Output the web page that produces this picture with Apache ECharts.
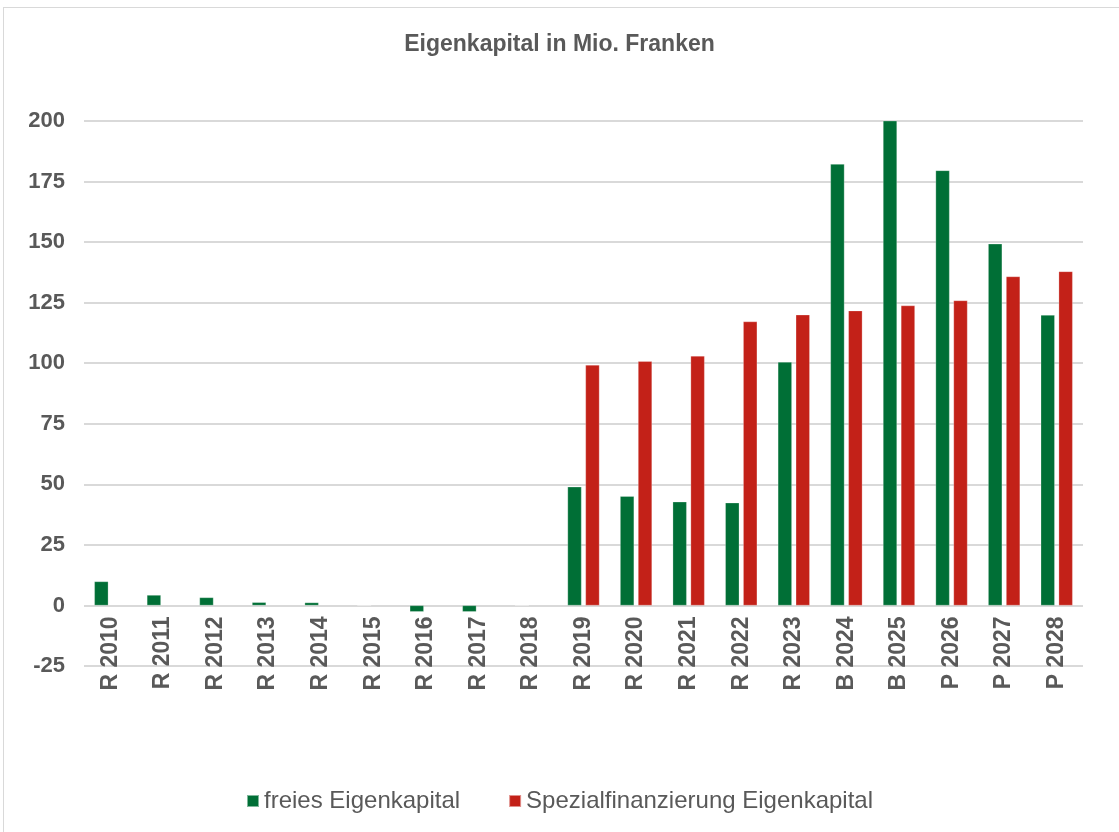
<!DOCTYPE html>
<html>
<head>
<meta charset="utf-8">
<script src="https://cdn.jsdelivr.net/npm/echarts@6/dist/echarts.min.js"></script>
<style>
  html, body { margin: 0; padding: 0; background: #fff; }
  #frame { position: absolute; left: 3px; top: 7px; width: 1130px; height: 840px; border: 1px solid #d9d9d9; box-sizing: border-box; }
  #chart { position: absolute; left: 0; top: 0; width: 1119px; height: 832px; }
</style>
</head>
<body>
<div id="frame"></div>
<div id="chart"></div>
<script>
// Kategorien (Jahre)
const years = ['R 2010','R 2011','R 2012','R 2013','R 2014','R 2015','R 2016','R 2017','R 2018',
  'R 2019','R 2020','R 2021','R 2022','R 2023','B 2024','B 2025','P 2026','P 2027','P 2028'];
// freies Eigenkapital
const freiesEK = [9.9, 4.3, 3.3, 1.3, 1.2, 0, -2.6, -2.6, 0,
  49, 45.1, 42.8, 42.4, 100.5, 182.2, 200.5, 179.6, 149.3, 119.9];
// Spezialfinanzierung Eigenkapital
const spezialEK = [null, null, null, null, null, null, null, null, null,
  99.3, 100.8, 103, 117.2, 120, 121.7, 123.8, 125.9, 135.8, 137.9];

const yMin = -25, yMax = 200, yStep = 25;
const gridTop = 121, gridBottom = 166, chartH = 832;
// Abstand der Nulllinie vom unteren Rand des Plotbereichs
const zeroOffset = (chartH - gridTop - gridBottom) * (0 - yMin) / (yMax - yMin);

const textColor = '#595959';
const chart = echarts.init(document.getElementById('chart'));

chart.setOption({
  animation: false,
  title: {
    text: 'Eigenkapital in Mio. Franken',
    left: 'center',
    top: 28,
    textStyle: { fontFamily: 'Liberation Sans', fontSize: 23, fontWeight: 'bold', color: textColor }
  },
  legend: {
    bottom: 14,
    left: 'center',
    itemWidth: 12,
    itemHeight: 12,
    itemGap: 48,
    icon: 'rect',
    textStyle: { fontFamily: 'Liberation Sans', fontSize: 24, color: textColor }
  },
  grid: { left: 84, right: 36, top: gridTop, bottom: gridBottom },
  xAxis: {
    type: 'category',
    data: years,
    offset: -zeroOffset,
    axisLine: { show: false, onZero: false },
    axisTick: { show: false },
    axisLabel: {
      rotate: 90,
      interval: 0,
      margin: 11,
      fontFamily: 'Liberation Sans',
      fontSize: 23,
      fontWeight: 'bold',
      color: textColor
    }
  },
  yAxis: {
    type: 'value',
    min: yMin,
    max: yMax,
    interval: yStep,
    axisLine: { show: false },
    axisTick: { show: false },
    splitLine: { lineStyle: { color: '#d9d9d9', width: 2 } },
    axisLabel: {
      margin: 19,
      fontFamily: 'Liberation Sans',
      fontSize: 22,
      fontWeight: 'bold',
      color: textColor
    }
  },
  series: [
    {
      name: 'freies Eigenkapital',
      type: 'bar',
      data: freiesEK,
      barWidth: 14,
      barGap: '28%',
      itemStyle: { color: '#006F36', borderColor: 'rgba(255,255,255,0.5)', borderWidth: 0.5 }
    },
    {
      name: 'Spezialfinanzierung Eigenkapital',
      type: 'bar',
      data: spezialEK,
      barWidth: 14,
      itemStyle: { color: '#C32118', borderColor: 'rgba(255,255,255,0.5)', borderWidth: 0.5 }
    }
  ]
});
</script>
</body>
</html>
